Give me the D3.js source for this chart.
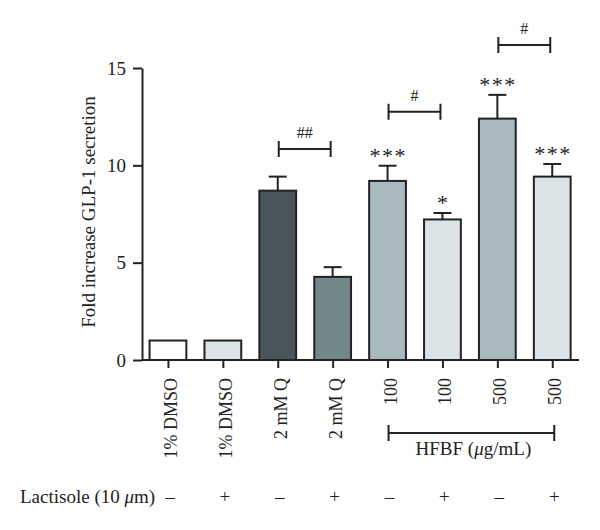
<!DOCTYPE html>
<html><head><meta charset="utf-8">
<script src="https://cdn.jsdelivr.net/npm/d3@7"></script>
<style>
body{margin:0;background:#fff;}
text{font-family:"Liberation Serif","Times New Roman",serif;fill:#222;}
</style></head>
<body><svg id="c" width="600" height="530"></svg>
<script>
const categories = ["1% DMSO","1% DMSO","2 mM Q","2 mM Q","100","100","500","500"];
const values = [1.0, 1.0, 8.7, 4.27, 9.2, 7.22, 12.4, 9.42];
const errors = [0, 0, 0.72, 0.5, 0.78, 0.33, 1.22, 0.65];
const stars = ["", "", "", "", "***", "*", "***", "***"];
const lactisole = ["–","+","–","+","–","+","–","+"];
const barColors = ["#ffffff","#dce3e6","#48555a","#748788","#a9b9c0","#dce3e6","#a9b9c0","#dce3e6"];
const yTicks = [0, 5, 10, 15];
const brackets = [
  {from: 2, to: 3, y: 10.84, label: "##"},
  {from: 4, to: 5, y: 12.75, label: "#"},
  {from: 6, to: 7, y: 16.18, label: "#"}
];
const groupBracket = {from: 4, to: 7, label: "HFBF (", unit: "μ", rest: "g/mL)"};
const yTitle = "Fold increase GLP-1 secretion";
const rowTitle = "Lactisole (10 ";

const svg = d3.select("#c");
const idx = d3.range(categories.length);
const x = d3.scalePoint().domain(idx).range([140.5, 579.7]).padding(0.5);
const y = d3.scaleLinear().domain([0, 15]).range([360, 68]);
const bw = x.step() * 0.67;
const ink = "#222";

// bars
svg.append("g").selectAll("rect").data(idx).join("rect")
  .attr("x", i => x(i) - bw/2)
  .attr("y", i => y(values[i]))
  .attr("width", bw)
  .attr("height", i => y(0) - y(values[i]))
  .attr("fill", i => barColors[i])
  .attr("stroke", ink).attr("stroke-width", 2);

// error bars
const eg = svg.append("g").attr("stroke", ink).attr("stroke-width", 2);
idx.filter(i => errors[i] > 0).forEach(i => {
  eg.append("line").attr("x1", x(i)).attr("x2", x(i))
    .attr("y1", y(values[i])).attr("y2", y(values[i] + errors[i]));
  eg.append("line").attr("x1", x(i) - 9).attr("x2", x(i) + 9)
    .attr("y1", y(values[i] + errors[i])).attr("y2", y(values[i] + errors[i]));
});

// stars
svg.append("g").selectAll("text").data(idx.filter(i => stars[i])).join("text")
  .attr("x", i => x(i) + 0.75).attr("y", i => y(values[i] + errors[i]) - 3)
  .attr("text-anchor", "middle").attr("font-size", 22)
  .attr("letter-spacing", 1.5)
  .text(i => stars[i]);

// axes
const yAxis = svg.append("g").attr("transform", "translate(142,0)")
  .call(d3.axisLeft(y).tickValues(yTicks).tickSize(9).tickSizeOuter(0).tickPadding(7));
yAxis.selectAll("text").attr("font-size", 19).style("font-family", "Liberation Serif").attr("fill", ink);
yAxis.selectAll("line,path").attr("stroke", ink).attr("stroke-width", 2);

const xAxis = svg.append("g").attr("transform", "translate(0,360)")
  .call(d3.axisBottom(x).tickSize(8).tickSizeOuter(0).tickFormat(""));
xAxis.select("path").attr("d", "M142,0H579");
xAxis.selectAll("line,path").attr("stroke", ink).attr("stroke-width", 2);

// rotated category labels
svg.append("g").selectAll("text").data(idx).join("text")
  .attr("transform", i => `translate(${x(i)},378) rotate(-90)`)
  .attr("x", 0).attr("y", 9)
  .attr("text-anchor", "end").attr("font-size", 18)
  .text(i => categories[i]);

// y title
svg.append("text").attr("transform", "translate(95,212) rotate(-90)")
  .attr("text-anchor", "middle").attr("font-size", 19).text(yTitle);

// significance brackets
const bg = svg.append("g");
brackets.forEach(b => {
  const x1 = x(b.from) + 1, x2 = x(b.to) - 2, yy = y(b.y);
  bg.append("path").attr("d", `M${x1},${yy-8}V${yy+8}M${x1},${yy}H${x2}M${x2},${yy-8}V${yy+8}`)
    .attr("stroke", ink).attr("stroke-width", 2).attr("fill", "none");
  bg.append("text").attr("x", (x1 + x2)/2).attr("y", yy - 11)
    .attr("text-anchor", "middle").attr("font-size", 16).text(b.label);
});

// HFBF group bracket
{
  const x1 = x(groupBracket.from) + 1, x2 = x(groupBracket.to) + 2, yy = 433;
  bg.append("path").attr("d", `M${x1},${yy-8}V${yy+8}M${x1},${yy}H${x2}M${x2},${yy-8}V${yy+8}`)
    .attr("stroke", ink).attr("stroke-width", 2).attr("fill", "none");
  const t = bg.append("text").attr("x", (x1 + x2)/2 + 2).attr("y", 455)
    .attr("text-anchor", "middle").attr("font-size", 19);
  t.append("tspan").text(groupBracket.label);
  t.append("tspan").attr("font-style", "italic").text(groupBracket.unit);
  t.append("tspan").text(groupBracket.rest);
}

// Lactisole row
{
  const t = svg.append("text").attr("x", 20).attr("y", 503).attr("font-size", 19);
  t.append("tspan").text(rowTitle);
  t.append("tspan").attr("font-style", "italic").text("μ");
  t.append("tspan").text("m)");
  svg.append("g").selectAll("text").data(idx).join("text")
    .attr("x", i => x(i) + 2).attr("y", 503)
    .attr("text-anchor", "middle").attr("font-size", 19)
    .text(i => lactisole[i]);
}
</script></body></html>
